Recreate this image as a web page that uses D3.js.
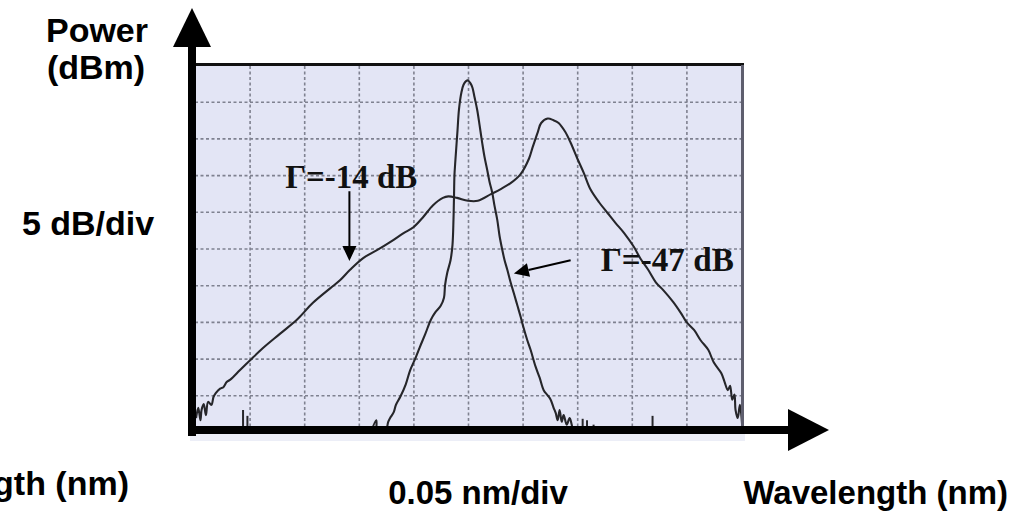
<!DOCTYPE html>
<html><head><meta charset="utf-8">
<script src="https://cdn.jsdelivr.net/npm/d3@7"></script>
<style>html,body{margin:0;padding:0;background:#fff;} svg{display:block}</style>
</head><body><svg id="c" width="1013" height="513"></svg>
<script>
// Wavelength offset (nm, 0.05 nm/div) and relative power (dB, 5 dB/div, top = 0 dB)
const wideX = [0.001,0.003,0.005,0.006,0.008,0.010,0.012,0.015,0.017,0.019,0.023,0.026,0.029,0.032,0.035,0.041,0.050,0.062,0.078,0.094,0.108,0.124,0.133,0.142,0.154,0.167,0.179,0.191,0.200,0.209,0.218,0.227,0.232,0.240,0.250,0.259,0.271,0.280,0.289,0.298,0.306,0.309,0.314,0.317,0.323,0.328,0.333,0.339,0.344,0.350,0.356,0.362,0.370,0.378,0.385,0.393,0.402,0.408,0.415,0.422,0.429,0.438,0.445,0.450,0.457,0.463,0.470,0.475,0.482,0.485,0.488,0.490,0.492,0.494,0.495,0.497,0.499,0.501];
const wideY = [-48.1,-46.7,-48.4,-47.0,-46.2,-47.7,-45.9,-46.3,-45.2,-44.7,-44.1,-43.9,-43.2,-42.9,-42.5,-41.6,-40.3,-38.6,-36.6,-34.6,-32.4,-30.4,-29.3,-27.9,-26.3,-25.2,-24.1,-22.9,-22.1,-20.7,-19.1,-18.1,-17.9,-18.1,-18.5,-18.5,-17.6,-16.9,-16.1,-14.9,-12.7,-11.3,-9.1,-7.9,-7.3,-7.5,-7.9,-9.1,-10.6,-12.7,-14.7,-16.9,-18.7,-20.2,-21.5,-22.9,-24.8,-26.4,-27.9,-29.6,-30.7,-32.3,-33.8,-35.0,-36.1,-37.5,-38.8,-40.5,-42.0,-43.2,-44.3,-43.7,-45.6,-44.9,-47.0,-48.1,-46.3,-49.0];

const narrowX = [0.161,0.166,0.167,0.174,0.177,0.179,0.182,0.184,0.188,0.193,0.197,0.202,0.206,0.211,0.216,0.220,0.225,0.228,0.229,0.231,0.234,0.2358,0.2367,0.2372,0.2376,0.2385,0.2404,0.2417,0.2440,0.2459,0.2482,0.2500,0.2523,0.2541,0.2560,0.2584,0.2606,0.2630,0.2651,0.2676,0.2697,0.2722,0.2743,0.2768,0.2789,0.2814,0.2835,0.2860,0.2890,0.2920,0.2951,0.2982,0.3009,0.3043,0.3073,0.3119,0.3156,0.3193,0.3229,0.3257,0.3284,0.3303,0.3321,0.3339,0.3358,0.3376,0.3404,0.3431,0.3459,0.3486];
const narrowY = [-50.1,-48.4,-50.1,-50.1,-48.6,-48.0,-47.3,-46.3,-45.2,-43.5,-41.6,-39.9,-38.4,-36.6,-34.7,-33.7,-32.8,-31.7,-30.0,-28.3,-26.6,-24.5,-21.1,-17.8,-15.0,-12.9,-8.9,-6.1,-3.7,-2.7,-2.2,-2.1,-2.5,-3.1,-4.4,-6.1,-8.2,-10.6,-12.5,-14.3,-15.9,-17.4,-19.2,-21.1,-23.3,-25.2,-26.6,-27.9,-29.6,-31.1,-32.7,-34.3,-35.8,-37.5,-38.8,-41.1,-42.6,-44.3,-45.0,-45.6,-46.7,-47.4,-48.4,-47.0,-48.6,-47.7,-49.0,-48.1,-49.5,-50.1];

// noise-floor spikes
const spikeX = [0.044,0.048,0.355,0.359,0.365,0.419];
const spikeTop = [-47.0,-47.8,-48.2,-48.4,-49.0,-47.8];

const xGrid = [0.05,0.10,0.15,0.20,0.25,0.30,0.35,0.40,0.45];
const yGrid = [-5,-10,-15,-20,-25,-30,-35,-40,-45];

const labels = [
  {text:"Γ=-14 dB", x:0.0826, y:-16.8, len:132},
  {text:"Γ=-47 dB", x:0.3716, y:-28.1, len:133}
];
const arrows = [
  {x1:0.1414, y1:-17.2, x2:0.1414, y2:-26.7},
  {x1:0.344, y1:-26.6, x2:0.292, y2:-28.4}
];

const svg = d3.select('#c');
const x = d3.scaleLinear().domain([0,0.5]).range([195,741]);
const y = d3.scaleLinear().domain([-50,0]).range([432,65]);

// screen background
svg.append('rect').attr('x',190).attr('y',432).attr('width',555).attr('height',9).attr('fill','#eceef7');
svg.append('rect').attr('x',x(0)).attr('y',y(0)).attr('width',x(0.5)-x(0)).attr('height',y(-50)-y(0)).attr('fill','#e3e5f5');

svg.append('clipPath').attr('id','scr').append('rect')
  .attr('x',x(0)).attr('y',y(0)).attr('width',x(0.5)-x(0)).attr('height',y(-50)-y(0));

// grid via axes
const gx = svg.append('g').attr('transform',`translate(0,${y(-50)})`)
  .call(d3.axisBottom(x).tickValues(xGrid).tickSize(-(y(-50)-y(0))).tickFormat(''));
const gy = svg.append('g').attr('transform',`translate(${x(0)},0)`)
  .call(d3.axisLeft(y).tickValues(yGrid).tickSize(-(x(0.5)-x(0))).tickFormat(''));
[gx,gy].forEach(g=>{
  g.select('.domain').remove();
  g.selectAll('.tick line').attr('stroke','#7f8190').attr('stroke-width',1.6).attr('stroke-dasharray','3,2.5');
});

const plot = svg.append('g').attr('clip-path','url(#scr)');
const line = d3.line().x(d=>x(d[0])).y(d=>y(d[1])).curve(d3.curveCatmullRom.alpha(0.5));
plot.append('path').attr('d',line(wideX.map((v,i)=>[v,wideY[i]])))
  .attr('fill','none').attr('stroke','#26262a').attr('stroke-width',2.1);
plot.append('path').attr('d',line(narrowX.map((v,i)=>[v,narrowY[i]])))
  .attr('fill','none').attr('stroke','#26262a').attr('stroke-width',2.1);
plot.selectAll('line.sp').data(spikeX).enter().append('line')
  .attr('x1',d=>x(d)).attr('x2',d=>x(d)).attr('y1',y(-50)).attr('y2',(d,i)=>y(spikeTop[i]))
  .attr('stroke','#26262a').attr('stroke-width',2);

// screen border (top & right)
svg.append('line').attr('x1',188).attr('x2',x(0.5)+3).attr('y1',y(0)-0.5).attr('y2',y(0)-0.5).attr('stroke','#111').attr('stroke-width',3);
svg.append('line').attr('x1',x(0.5)+1.5).attr('x2',x(0.5)+1.5).attr('y1',y(0)).attr('y2',434).attr('stroke','#5e5e6e').attr('stroke-width',3);

// annotations
labels.forEach(l=>{
  svg.append('text').attr('x',x(l.x)).attr('y',y(l.y)).text(l.text)
    .attr('font-family','"Liberation Serif", "DejaVu Serif", serif').attr('font-weight','bold')
    .attr('font-size',33).attr('textLength',l.len).attr('lengthAdjust','spacingAndGlyphs').attr('fill','#111');
});
function arrow(x1,y1,x2,y2,len,half,w){
  const a=Math.atan2(y2-y1,x2-x1);
  const bx=x2-len*Math.cos(a), by=y2-len*Math.sin(a);
  svg.append('line').attr('x1',x1).attr('y1',y1).attr('x2',bx).attr('y2',by).attr('stroke','#000').attr('stroke-width',w);
  const p=d3.path();
  p.moveTo(x2,y2);
  p.lineTo(bx+half*Math.sin(a),by-half*Math.cos(a));
  p.lineTo(bx-half*Math.sin(a),by+half*Math.cos(a));
  p.closePath();
  svg.append('path').attr('d',p.toString()).attr('fill','#000');
}
arrows.forEach(a=>arrow(x(a.x1),y(a.y1),x(a.x2),y(a.y2),15,7,2));

// main axes arrows
arrow(192,436,192,8,39,19,8);
arrow(188,430,829,430,41,21,8);

// axis texts
const sans='"Liberation Sans", Arial, Helvetica, sans-serif';
function txt(s,xx,yy,size,anchor,len){
  const t=svg.append('text').attr('x',xx).attr('y',yy).text(s).attr('font-family',sans).attr('font-weight','bold')
    .attr('font-size',size).attr('text-anchor',anchor).attr('fill','#000');
  if(len) t.attr('textLength',len).attr('lengthAdjust','spacingAndGlyphs');
  return t;
}
txt('Power',97,42,34,'middle');
txt('(dBm)',96,79,34,'middle');
txt('5 dB/div',88,235,34,'middle');
txt('Wavelength (nm)',129,495,34,'end');
txt('0.05 nm/div',478,504,33,'middle');
txt('Wavelength (nm)',1008,504,33,'end');
</script></body></html>
